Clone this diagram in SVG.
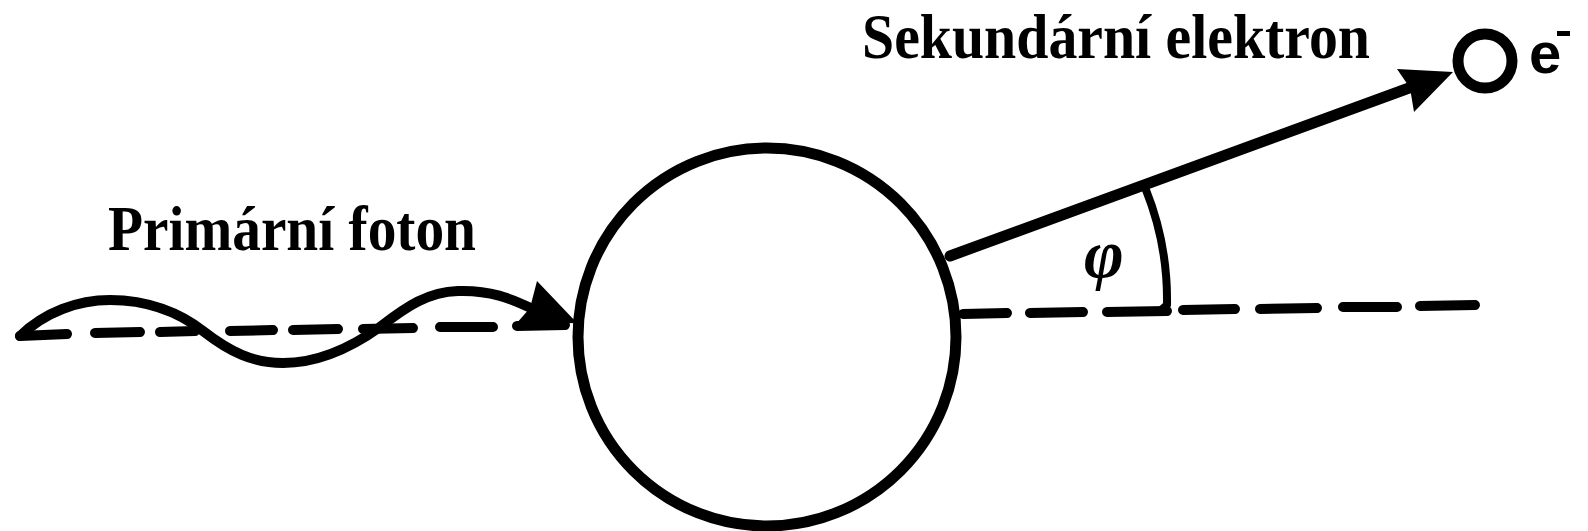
<svg xmlns="http://www.w3.org/2000/svg" width="1588" height="531" viewBox="0 0 1588 531">
<style>
.ln{fill:none;stroke:#000;stroke-linecap:round;stroke-linejoin:round}
.lbl{font-family:"Liberation Serif","Times New Roman",serif;font-weight:bold;font-size:64px;fill:#000}
</style>
<rect width="1588" height="531" fill="#fff"/>
<g id="connectors">
  <path class="ln" stroke-width="10" d="M20,336 L67,334 M95,333 L140,332 M160,332 L195,331 M230,331 L273,330 M293,330 L338,329 M363,329 L413,328 M440,327 L493,327 M517,326 L565,325"/>
  <path class="ln" stroke-width="10" d="M20,336 C45,312 78,300 110,300 C148,300 180,313 203,331 C230,352 253,363 283,363 C320,363 352,347 380,327 C407,306 428,292 458,291 C490,290 510,298 535,310"/>
  <polygon points="537,281 577,323 516,324 530,308" fill="#000"/>
  <path class="ln" stroke-width="10" d="M963,314 L1007,313 M1030,313 L1083,312 M1107,312 L1167,311 M1183,310 L1235,309 M1260,309 L1317,308 M1343,307 L1397,307 M1420,306 L1475,305"/>
  <path class="ln" stroke-width="11" d="M950,256 L1420,84"/>
  <polygon points="1397,69 1453,72 1414,112 1410,88" fill="#000"/>
  <path class="ln" stroke-width="8" d="M1146,190 Q1168,245 1167,305 L1160,311"/>
</g>
<g id="nucleus">
  <circle cx="767" cy="337" r="189" fill="none" stroke="#000" stroke-width="11"/>
</g>
<g id="electron">
  <circle cx="1485" cy="61" r="27" fill="none" stroke="#000" stroke-width="11"/>
  <text x="1529" y="73" font-family="Liberation Sans, Arial, sans-serif" font-weight="bold" font-size="58">e</text>
  <rect x="1557" y="31" width="13" height="5" fill="#000"/>
</g>
<g id="label-secondary">
  <text class="lbl" x="862" y="58" textLength="508" lengthAdjust="spacingAndGlyphs">Sekundární elektron</text>
</g>
<g id="label-primary">
  <text class="lbl" x="108" y="250" textLength="368" lengthAdjust="spacingAndGlyphs">Primární foton</text>
</g>
<g id="angle-label">
  <text x="1084" y="277" font-family="Liberation Serif, Times New Roman, serif" font-style="italic" font-weight="bold" font-size="68">φ</text>
</g>
</svg>
